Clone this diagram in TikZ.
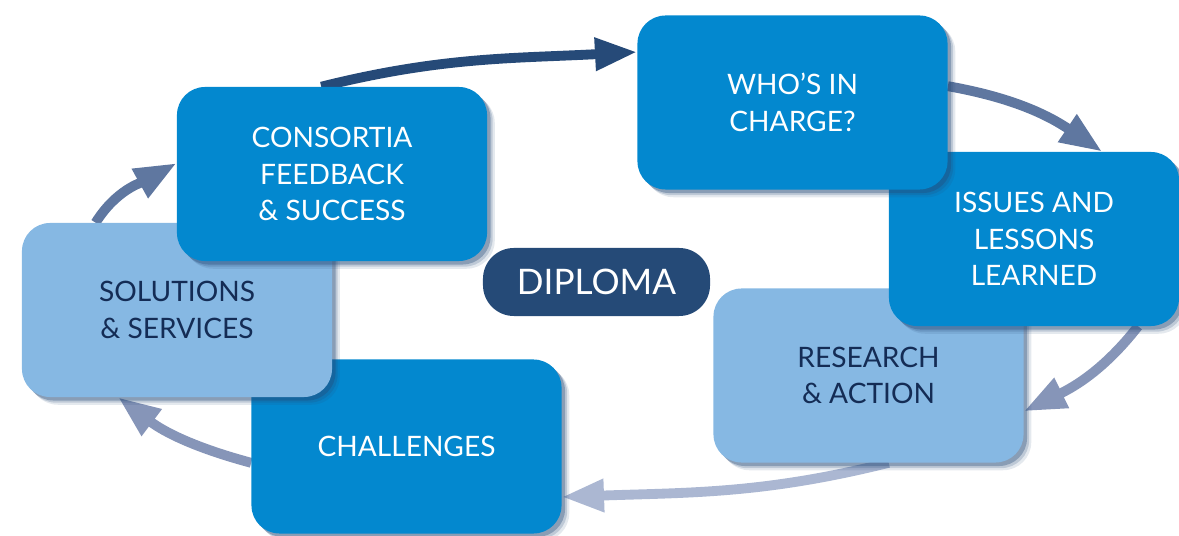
\documentclass[tikz,border=0pt]{standalone}
\usepackage{fontspec}
\setmainfont{Lato}
\usetikzlibrary{arrows.meta,positioning,shadows,backgrounds}
\definecolor{darkbox}{RGB}{3,136,207}
\definecolor{lightbox}{RGB}{134,184,227}
\definecolor{navybox}{RGB}{37,74,119}
\definecolor{navytext}{RGB}{20,44,85}
\definecolor{arrowA}{RGB}{38,74,120}
\definecolor{arrowB}{RGB}{95,119,160}
\definecolor{arrowC}{RGB}{134,149,184}
\definecolor{arrowD}{RGB}{171,183,210}
\tikzset{softshadow/.style={drop shadow={shadow xshift=5.5pt,shadow yshift=-5.5pt,fill=navybox,opacity=0.12},
    drop shadow={shadow xshift=4pt,shadow yshift=-4pt,fill=navybox,opacity=0.2},
    drop shadow={shadow xshift=2.5pt,shadow yshift=-2.5pt,fill=navybox,opacity=0.35}}}
\tikzset{stage/.style={rectangle,rounded corners=20pt,minimum width=7.75cm,minimum height=4.35cm,
    align=center,font=\fontsize{20}{26}\selectfont,softshadow}}
\tikzset{darkstage/.style={stage,fill=darkbox,text=white}}
\tikzset{lightstage/.style={stage,fill=lightbox,text=navytext}}
\tikzset{flow/.style={line width=7pt,-{Triangle[length=30pt,width=22pt]}}}

\begin{document}
\begin{tikzpicture}[x=0.025cm,y=-0.025cm]
\useasboundingbox (0,0) rectangle (1179,536);
% left half of the cycle
\node (chal) [darkstage] at (406.5,446.5) {CHALLENGES};
\node (sol) [lightstage] at (177,310) {SOLUTIONS\\\& SERVICES};
\node (cons) [darkstage] at (332,174) {CONSORTIA\\FEEDBACK\\\& SUCCESS};
% right half of the cycle
\node (res) [lightstage] at (868.5,375.5) {RESEARCH\\\& ACTION};
\node (iss) [darkstage,minimum width=7.25cm] at (1034,239) {ISSUES AND\\LESSONS\\LEARNED};
\node (who) [darkstage] at (792.5,102.5) {WHO’S IN\\CHARGE?};
%
\node (dip) [rectangle,rounded corners=22pt,fill=navybox,text=white,minimum width=5.675cm,
  minimum height=1.7cm,font=\fontsize{25}{30}\selectfont] at (596.5,282) {DIPLOMA};
%
\begin{pgfonlayer}{background}
\path[flow] (cons.97) edge[arrowA,out=14,in=183] (who.162);
\path[flow] (who.6) edge[arrowB,out=-10,in=146] (iss.52);
\path[flow] (iss.-40) edge[arrowC,out=232,in=26] (res.-13);
\path[flow] (res.-77) edge[arrowD,out=194,in=2] (chal.-18);
\path[flow] (chal.186) edge[arrowC,out=165,in=-37] (sol.236);
\path[flow] (sol.133) edge[arrowB,out=58,in=209] (cons.176);
\end{pgfonlayer}
%
\end{tikzpicture}
\end{document}
